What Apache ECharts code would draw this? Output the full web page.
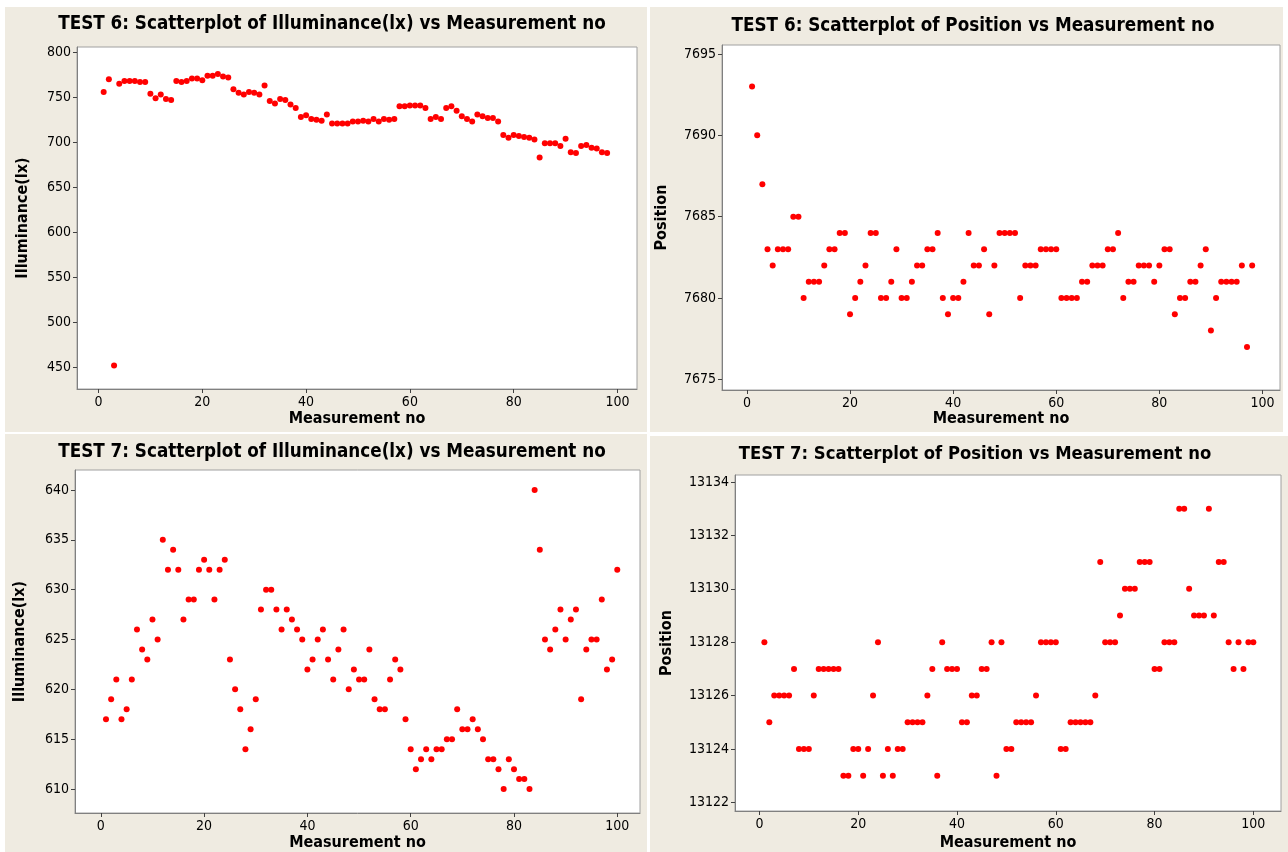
<!DOCTYPE html>
<html>
<head>
<meta charset="utf-8">
<script src="https://cdn.jsdelivr.net/npm/echarts@6/dist/echarts.min.js"></script>
<style>
  html, body { margin: 0; padding: 0; background: #ffffff; }
  #chart { width: 1288px; height: 852px; }
</style>
</head>
<body>
<div id="chart"></div>
<script>
// ---------- DATA ----------
const test6Illuminance = [756, 770, 452, 765, 768, 768, 768, 767, 767, 754,
  749, 753, 748, 747, 768, 767, 768, 771, 771, 769,
  774, 774, 776, 773, 772, 759, 755, 753, 756, 755,
  753, 763, 746, 743, 748, 747, 742, 738, 728, 730,
  726, 725, 724, 731, 721, 721, 721, 721, 723, 723,
  724, 723, 726, 723, 726, 725, 726, 740, 740, 741,
  741, 741, 738, 726, 728, 726, 738, 740, 735, 729,
  726, 723, 731, 729, 727, 727, 723, 708, 705, 708,
  707, 706, 705, 703, 683, 699, 699, 699, 696, 704,
  689, 688, 696, 697, 694, 693, 689, 688];

const test6Position = [7693, 7690, 7687, 7683, 7682, 7683, 7683, 7683, 7685, 7685,
  7680, 7681, 7681, 7681, 7682, 7683, 7683, 7684, 7684, 7679,
  7680, 7681, 7682, 7684, 7684, 7680, 7680, 7681, 7683, 7680,
  7680, 7681, 7682, 7682, 7683, 7683, 7684, 7680, 7679, 7680,
  7680, 7681, 7684, 7682, 7682, 7683, 7679, 7682, 7684, 7684,
  7684, 7684, 7680, 7682, 7682, 7682, 7683, 7683, 7683, 7683,
  7680, 7680, 7680, 7680, 7681, 7681, 7682, 7682, 7682, 7683,
  7683, 7684, 7680, 7681, 7681, 7682, 7682, 7682, 7681, 7682,
  7683, 7683, 7679, 7680, 7680, 7681, 7681, 7682, 7683, 7678,
  7680, 7681, 7681, 7681, 7681, 7682, 7677, 7682];

const test7Illuminance = [617, 619, 621, 617, 618, 621, 626, 624, 623, 627,
  625, 635, 632, 634, 632, 627, 629, 629, 632, 633,
  632, 629, 632, 633, 623, 620, 618, 614, 616, 619,
  628, 630, 630, 628, 626, 628, 627, 626, 625, 622,
  623, 625, 626, 623, 621, 624, 626, 620, 622, 621,
  621, 624, 619, 618, 618, 621, 623, 622, 617, 614,
  612, 613, 614, 613, 614, 614, 615, 615, 618, 616,
  616, 617, 616, 615, 613, 613, 612, 610, 613, 612,
  611, 611, 610, 640, 634, 625, 624, 626, 628, 625,
  627, 628, 619, 624, 625, 625, 629, 622, 623, 632];

const test7Position = [13128, 13125, 13126, 13126, 13126, 13126, 13127, 13124, 13124, 13124,
  13126, 13127, 13127, 13127, 13127, 13127, 13123, 13123, 13124, 13124,
  13123, 13124, 13126, 13128, 13123, 13124, 13123, 13124, 13124, 13125,
  13125, 13125, 13125, 13126, 13127, 13123, 13128, 13127, 13127, 13127,
  13125, 13125, 13126, 13126, 13127, 13127, 13128, 13123, 13128, 13124,
  13124, 13125, 13125, 13125, 13125, 13126, 13128, 13128, 13128, 13128,
  13124, 13124, 13125, 13125, 13125, 13125, 13125, 13126, 13131, 13128,
  13128, 13128, 13129, 13130, 13130, 13130, 13131, 13131, 13131, 13127,
  13127, 13128, 13128, 13128, 13133, 13133, 13130, 13129, 13129, 13129,
  13133, 13129, 13131, 13131, 13128, 13127, 13128, 13127, 13128, 13128];

const xTickValues = [0, 20, 40, 60, 80, 100];
const yTicksT6Illum = [450, 500, 550, 600, 650, 700, 750, 800];
const yTicksT6Pos = [7675, 7680, 7685, 7690, 7695];
const yTicksT7Illum = [610, 615, 620, 625, 630, 635, 640];
const yTicksT7Pos = [13122, 13124, 13126, 13128, 13130, 13132, 13134];

const titles = [
  'TEST 6: Scatterplot of Illuminance(lx) vs Measurement no',
  'TEST 6: Scatterplot of Position vs Measurement no',
  'TEST 7: Scatterplot of Illuminance(lx) vs Measurement no',
  'TEST 7: Scatterplot of Position vs Measurement no'
];
const xName = 'Measurement no';
const yNames = ['Illuminance(lx)', 'Position', 'Illuminance(lx)', 'Position'];

// ---------- CHART ----------
const toPoints = arr => arr.map((v, i) => [i + 1, v]);

const FONT = "'DejaVu Sans Condensed', 'DejaVu Sans', sans-serif";
const BEIGE = '#efebe1';

const grids = [
  { left: 77, top: 47, width: 560, height: 342 },
  { left: 722, top: 45, width: 558, height: 345 },
  { left: 75, top: 470, width: 565, height: 345 },
  { left: 735, top: 475, width: 546, height: 337 }
];
const xRanges = [[-4.14, 103.76], [-4.83, 103.4], [-5.0, 104.4], [-4.95, 105.6]];
const yRanges = [[425.9, 805.9], [7674.35, 7695.55], [607.6, 642.0], [13121.68, 13134.26]];
const yTicks = [yTicksT6Illum, yTicksT6Pos, yTicksT7Illum, yTicksT7Pos];
const seriesData = [test6Illuminance, test6Position, test7Illuminance, test7Position];
const yNameGaps = [46, 52, 47, 60];
const xNameGaps = [22, 21, 22, 24];
const titlePos = [[327, 10], [968, 12], [327, 438], [970, 440]];
const titleSizes = [18.7, 18.7, 18.7, 18.3];

const option = {
  animation: false,
  backgroundColor: '#ffffff',
  graphic: [
    { type: 'rect', silent: true, z: -10, shape: { x: 5, y: 7, width: 642, height: 425 }, style: { fill: BEIGE } },
    { type: 'rect', silent: true, z: -10, shape: { x: 650, y: 7, width: 633, height: 425 }, style: { fill: BEIGE } },
    { type: 'rect', silent: true, z: -10, shape: { x: 5, y: 434, width: 642, height: 418 }, style: { fill: BEIGE } },
    { type: 'rect', silent: true, z: -10, shape: { x: 650, y: 436, width: 638, height: 416 }, style: { fill: BEIGE } }
  ],
  title: titles.map((t, i) => ({
    text: t,
    left: titlePos[i][0],
    top: titlePos[i][1],
    textAlign: 'center',
    textStyle: { fontFamily: FONT, fontWeight: 'bold', fontSize: titleSizes[i], color: '#000' }
  })),
  grid: grids.map(g => Object.assign({
    show: true, backgroundColor: '#ffffff', borderColor: '#a0a0a0', borderWidth: 1, containLabel: false
  }, g)),
  xAxis: grids.map((g, i) => ({
    type: 'value',
    gridIndex: i,
    min: xRanges[i][0],
    max: xRanges[i][1],
    name: xName,
    nameLocation: 'middle',
    nameGap: xNameGaps[i],
    nameTextStyle: { fontFamily: FONT, fontWeight: 'bold', fontSize: 16, color: '#000' },
    splitLine: { show: false },
    axisLine: { show: true, onZero: false, lineStyle: { color: '#808080' } },
    axisTick: { show: true, length: 4, customValues: xTickValues, lineStyle: { color: '#404040' } },
    axisLabel: { customValues: xTickValues, formatter: v => String(v), fontFamily: FONT, fontSize: 14, color: '#000', margin: 6 }
  })),
  yAxis: grids.map((g, i) => ({
    type: 'value',
    gridIndex: i,
    min: yRanges[i][0],
    max: yRanges[i][1],
    name: yNames[i],
    nameLocation: 'middle',
    nameRotate: 90,
    nameGap: yNameGaps[i],
    nameTextStyle: { fontFamily: FONT, fontWeight: 'bold', fontSize: 16, color: '#000' },
    splitLine: { show: false },
    axisLine: { show: true, onZero: false, lineStyle: { color: '#808080' } },
    axisTick: { show: true, length: 4, customValues: yTicks[i], lineStyle: { color: '#404040' } },
    axisLabel: { customValues: yTicks[i], formatter: v => String(v), fontFamily: FONT, fontSize: 14, color: '#000', margin: 6 }
  })),
  series: seriesData.map((d, i) => ({
    type: 'scatter',
    xAxisIndex: i,
    yAxisIndex: i,
    data: toPoints(d),
    symbol: 'circle',
    symbolSize: 6,
    itemStyle: { color: '#ff0000', opacity: 1 }
  }))
};

const chart = echarts.init(document.getElementById('chart'), null, { renderer: 'canvas' });
chart.setOption(option);
</script>
</body>
</html>
